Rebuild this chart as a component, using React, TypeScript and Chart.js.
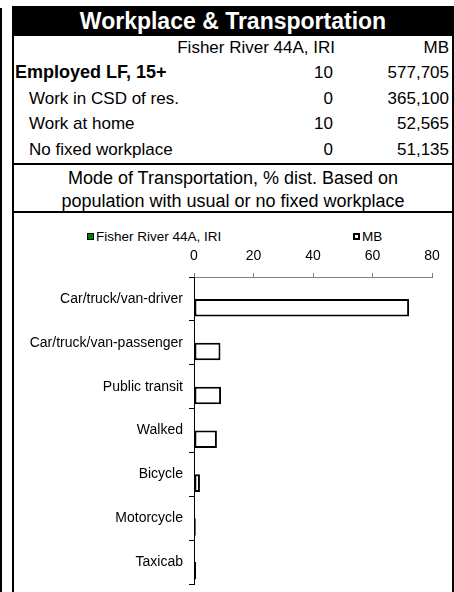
import React, { useEffect, useRef } from "react";
import { Chart, registerables } from "chart.js";

Chart.register(...registerables);

const title = "Workplace & Transportation";
const colHeaders = ["Fisher River 44A, IRI", "MB"];
const rowLabels = ["Employed LF, 15+", "Work in CSD of res.", "Work at home", "No fixed workplace"];
const rowLocal = ["10", "0", "10", "0"];
const rowProv = ["577,705", "365,100", "52,565", "51,135"];
const subtitle = ["Mode of Transportation, % dist. Based on", "population with usual or no fixed workplace"];

const categories = [
  "Car/truck/van-driver",
  "Car/truck/van-passenger",
  "Public transit",
  "Walked",
  "Bicycle",
  "Motorcycle",
  "Taxicab",
];
const seriesNames = ["Fisher River 44A, IRI", "MB"];
const localValues = [0, 0, 0, 0, 0, 0, 0];
const mbValues = [72.3, 8.9, 9.1, 7.7, 2.0, 0.6, 0.7];
const axisMin = 0;
const axisMax = 80;
const axisStep = 20;

const FONT = "'Liberation Sans', Arial, sans-serif";

export default function App() {
  const canvasRef = useRef<HTMLCanvasElement | null>(null);

  useEffect(() => {
    if (!canvasRef.current) return;
    const chart = new Chart(canvasRef.current, {
      type: "bar",
      data: {
        labels: categories,
        datasets: [
          {
            label: seriesNames[0],
            data: localValues,
            backgroundColor: "#008000",
            borderColor: "#000000",
            borderWidth: 1,
            categoryPercentage: 0.8,
            barPercentage: 1,
          },
          {
            label: seriesNames[1],
            data: mbValues,
            backgroundColor: "#ffffff",
            borderColor: "#000000",
            borderWidth: 2,
            borderSkipped: false,
            categoryPercentage: 0.8,
            barPercentage: 1,
          },
        ],
      },
      options: {
        indexAxis: "y",
        animation: false,
        responsive: false,
        maintainAspectRatio: false,
        layout: { padding: { top: 0, left: 0, right: 20, bottom: 8 } },
        plugins: {
          legend: { display: false },
          tooltip: { enabled: false },
          title: { display: false },
        },
        scales: {
          x: {
            position: "top",
            min: axisMin,
            max: axisMax,
            afterFit: (scale: any) => {
              scale.height = 63;
            },
            ticks: {
              stepSize: axisStep,
              color: "#000",
              padding: 8,
              font: { family: FONT, size: 14 },
            },
            grid: {
              drawOnChartArea: false,
              drawTicks: true,
              tickLength: 4,
              color: "#808080",
            },
            border: { color: "#808080", width: 1 },
          },
          y: {
            afterFit: (scale: any) => {
              scale.width = 180;
              scale.paddingTop = 0;
              scale.paddingBottom = 0;
            },
            ticks: {
              color: "#000",
              padding: 6,
              autoSkip: false,
              font: { family: FONT, size: 14 },
            },
            grid: {
              offset: true,
              drawOnChartArea: false,
              drawTicks: true,
              tickLength: 5,
              color: "#000",
            },
            border: { color: "#000", width: 1 },
          },
        },
      },
    });
    return () => chart.destroy();
  }, []);

  const abs = (s: React.CSSProperties): React.CSSProperties => ({ position: "absolute", ...s });
  const rowTops = [34.5, 60, 85.5, 111, 136.5];

  return (
    <div style={{ position: "absolute", left: 0, top: 0, width: 454, height: 592, overflow: "hidden", fontFamily: FONT, color: "#000", background: "#fff" }}>
      <div style={abs({ left: 0, top: 8, width: 2, height: 600, background: "#000" })} />
      <div style={abs({ left: 12, top: 6, width: 442, height: 600, background: "#fff", borderLeft: "2px solid #000", borderRight: "2px solid #000", boxSizing: "border-box" })} />
      <div style={abs({ left: 12, top: 6, width: 442, height: 30, background: "#000", color: "#fff", fontWeight: "bold", fontSize: 23, lineHeight: "30px", textAlign: "center" })}>{title}</div>
      <div style={abs({ left: 14, top: rowTops[0], width: 321, height: 25, lineHeight: "25px", fontSize: 17, textAlign: "right" })}>{colHeaders[0]}</div>
      <div style={abs({ left: 340, top: rowTops[0], width: 109, height: 25, lineHeight: "25px", fontSize: 17, textAlign: "right" })}>{colHeaders[1]}</div>
      {rowLabels.map((lab, i) => (
        <React.Fragment key={lab}>
          <div style={abs({ left: i === 0 ? 15 : 29, top: rowTops[i + 1], height: 25, lineHeight: "25px", fontSize: i === 0 ? 18 : 17, fontWeight: i === 0 ? "bold" : "normal", whiteSpace: "nowrap" })}>{lab}</div>
          <div style={abs({ left: 250, top: rowTops[i + 1], width: 83, height: 25, lineHeight: "25px", fontSize: 17, textAlign: "right" })}>{rowLocal[i]}</div>
          <div style={abs({ left: 340, top: rowTops[i + 1], width: 109, height: 25, lineHeight: "25px", fontSize: 17, textAlign: "right" })}>{rowProv[i]}</div>
        </React.Fragment>
      ))}
      <div style={abs({ left: 14, top: 163, width: 438, height: 2, background: "#000" })} />
      {subtitle.map((s, i) => (
        <div key={s} style={abs({ left: 14, top: 167 + i * 23, width: 438, height: 23, lineHeight: "23px", fontSize: 18, textAlign: "center", whiteSpace: "nowrap" })}>{s}</div>
      ))}
      <div style={abs({ left: 14, top: 211, width: 438, height: 2, background: "#000" })} />
      <div style={abs({ left: 87, top: 233, width: 7, height: 7, background: "#008000", border: "1px solid #000", boxSizing: "border-box" })} />
      <div style={abs({ left: 96, top: 228, height: 17, lineHeight: "17px", fontSize: 13.5, whiteSpace: "nowrap" })}>{seriesNames[0]}</div>
      <div style={abs({ left: 353, top: 233, width: 7, height: 7, background: "#fff", border: "2px solid #000", boxSizing: "border-box" })} />
      <div style={abs({ left: 362, top: 228, height: 17, lineHeight: "17px", fontSize: 13.5, whiteSpace: "nowrap" })}>{seriesNames[1]}</div>
      <div style={abs({ left: 14, top: 214, width: 438, height: 378 })}>
        <canvas ref={canvasRef} width={438} height={378} style={{ display: "block", width: 438, height: 378 }} />
      </div>
    </div>
  );
}
